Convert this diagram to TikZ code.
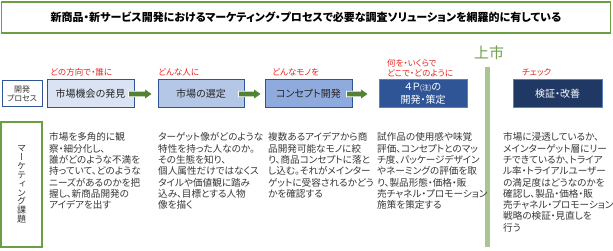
\documentclass[tikz,border=0pt]{standalone}
\usepackage{fontspec}
\setmainfont{Noto Sans CJK JP}[RawFeature=+palt]
\newfontfamily\jpv[RawFeature=+vert]{Noto Sans CJK JP}
\usetikzlibrary{calc}
\definecolor{tgreen}{HTML}{6A9F45}
\definecolor{arrgreen}{HTML}{548235}
\definecolor{vline}{HTML}{A9C593}
\definecolor{jsgreen}{HTML}{70A050}
\definecolor{dblue}{HTML}{2F5597}
\definecolor{mblue}{HTML}{5B7FBF}
\definecolor{fillA}{HTML}{DAE3F3}
\definecolor{fillB}{HTML}{B4C7E7}
\definecolor{fillC}{HTML}{8FAADC}
\definecolor{fillD}{HTML}{2F5597}
\definecolor{fillE}{HTML}{1F3864}
\definecolor{redlab}{HTML}{E8251F}
\definecolor{bodytxt}{HTML}{383838}
\newcommand\garrow[2]{%
  \path[fill=arrgreen,draw=white,line width=0.8pt] let \p1=(#1), \p2=(#2) in
   (\x1,\y1+2.8pt) -- (\x2-8pt,\y1+2.8pt) -- (\x2-8pt,\y1+5.5pt) -- (\x2,\y1)
   -- (\x2-8pt,\y1-5.5pt) -- (\x2-8pt,\y1-2.8pt) -- (\x1,\y1-2.8pt) -- cycle;}
\tikzset{
  stepbox/.style={draw=dblue,line width=1pt,minimum height=28pt,inner sep=0pt,
    font=\fontsize{10}{12}\selectfont,text=black!85,align=center},
  redlabel/.style={anchor=west,inner sep=0pt,text=redlab,font=\fontsize{8.5}{10}\selectfont,align=left},
  coltext/.style={anchor=north west,inner sep=0pt,text=bodytxt,align=left,
    font=\fontsize{9.6}{11.3}\selectfont}
}
\begin{document}
\begin{tikzpicture}[x=1pt,y=-1pt]
\useasboundingbox (0,0) rectangle (613,251);
\fill[white] (0,0) rectangle (613,251);
% title
\node[draw=tgreen,line width=1.5pt,minimum width=609pt,minimum height=31pt,inner sep=0pt,
  font=\fontsize{11}{13}\selectfont\bfseries] (title) at (306,17.5)
  {新商品・新サービス開発におけるマーケティング・プロセスで必要な調査ソリューションを網羅的に有している};
% process label box
\node[draw=dblue,line width=1pt,minimum width=40pt,minimum height=26pt,inner sep=0pt,
  align=center,font=\fontsize{8}{9.5}\selectfont,text=black!80] (proc) at (22,94) {開発\\プロセス};
% step boxes
\node[stepbox,fill=fillA,minimum width=87pt] (b1) at (90.5,94) {市場機会の発見};
\node[stepbox,fill=fillB,minimum width=86pt] (b2) at (201,94) {市場の選定};
\node[stepbox,fill=fillC,minimum width=87pt] (b3) at (308.5,94) {コンセプト開発};
\node[stepbox,draw=mblue,fill=fillD,minimum width=88pt,text=white,
  font=\fontsize{10}{12.5}\selectfont] (b4) at (423,94) {４Ｐ{\fontsize{7}{7}\selectfont(注)}の\\開発・策定};
\node[stepbox,draw=mblue,fill=fillE,minimum width=89pt,text=white] (b5) at (557.5,94) {検証・改善};
% arrows
\garrow{$(b1.east)+(-6,0)$}{$(b2.west)+(-5,0)$}
\garrow{$(b2.east)+(-6,0)$}{$(b3.west)+(-3,0)$}
\garrow{$(b3.east)+(-6,0)$}{$(b4.west)+(-10,0)$}
% launch line
\coordinate (vtop) at (487.5,67);
\coordinate (vbot) at (487.5,247);
\draw[vline,line width=5pt] (vtop) -- (vbot);
\node[text=jsgreen,font=\fontsize{15}{16}\selectfont,inner sep=0pt] (launch) at (489,53) {上市};
% red labels
\node[redlabel] (r1) at (50,72) {どの方向で・誰に};
\node[redlabel] (r2) at (158,72) {どんな人に};
\node[redlabel] (r3) at (272,72) {どんなモノを};
\node[redlabel] (r4) at (387,68) {何を・いくらで\\どこで・どのように};
\node[redlabel] (r5) at (522,72) {チェック};
% marketing box
\node[draw=tgreen,line width=1.2pt,minimum width=41pt,minimum height=125pt,inner sep=0pt,
  align=center,text=black!80,font=\jpv\fontsize{9}{8.9}\selectfont] (mk) at (21.5,184.5)
  {マ\\ー\\ケ\\テ\\ィ\\ン\\グ\\課\\題};
% column texts
\node[coltext] (c1) at (49,132.5) {市場を多角的に観\\察・細分化し、\\誰がどのような不満を\\持っていて、どのような\\ニーズがあるのかを把\\握し、新商品開発の\\アイデアを出す};
\node[coltext] (c2) at (158,132.5) {ターゲット像がどのような\\特性を持った人なのか。\\その生態を知り、\\個人属性だけではなくス\\タイルや価値観に踏み\\込み、目標とする人物\\像を描く};
\node[coltext] (c3) at (268,132.5) {複数あるアイデアから商\\品開発可能なモノに絞\\り、商品コンセプトに落と\\し込む。それがメインター\\ゲットに受容されるかどう\\かを確認する};
\node[coltext] (c4) at (377,132.5) {試作品の使用感や味覚\\評価、コンセプトとのマッ\\チ度、パッケージデザイン\\やネーミングの評価を取\\り、製品形態・価格・販\\売チャネル・プロモーション\\施策を策定する};
\node[coltext] (c5) at (503,132.5) {市場に浸透しているか、\\メインターゲット層にリー\\チできているか、トライア\\ル率・トライアルユーザー\\の満足度はどうなのかを\\確認し、製品・価格・販\\売チャネル・プロモーション\\戦略の検証・見直しを\\行う};
\end{tikzpicture}
\end{document}
